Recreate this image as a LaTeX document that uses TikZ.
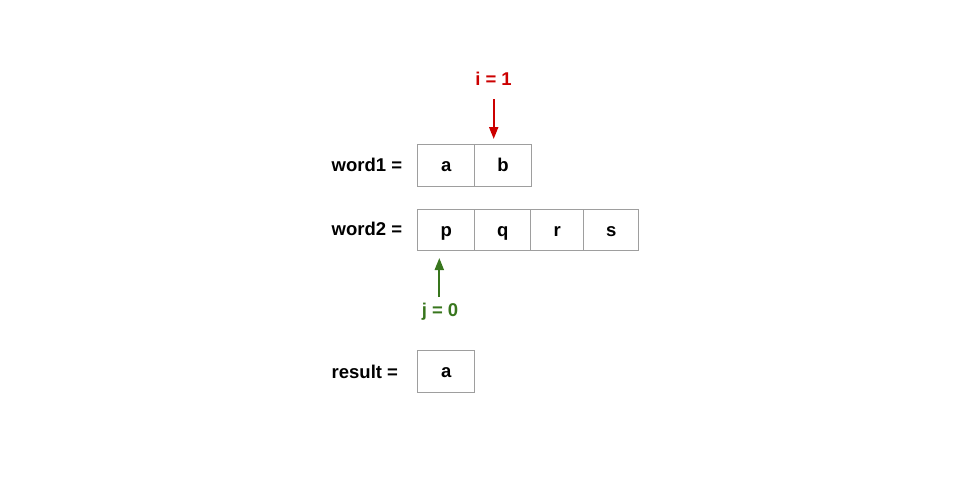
\documentclass[tikz,border=0pt]{standalone}
\usepackage{fontspec}
\setmainfont{Liberation Sans}
\usetikzlibrary{arrows.meta}
\definecolor{boxgray}{HTML}{9E9E9E}
\definecolor{ired}{HTML}{CC0000}
\definecolor{jgreen}{HTML}{38761D}
\begin{document}
\begin{tikzpicture}[x=1pt,y=-1pt,
  cell/.style={draw=boxgray,line width=1pt,minimum height=41.5pt,inner sep=0pt,text height=13pt,text depth=0pt,font=\fontsize{18.5}{20}\selectfont\bfseries,anchor=north west},
  lbl/.style={font=\fontsize{18.5}{20}\selectfont\bfseries,anchor=base west,inner sep=0pt},
  ptr/.style={line width=2pt,-{Triangle[length=12pt,width=9pt]}}]
\useasboundingbox (0,0) rectangle (960,480);
% word1
\node[cell,minimum width=57pt] (a1) at (417.3,144) {a};
\node[cell,minimum width=56.4pt] (b1) at (474.3,144) {b};
% word2
\node[cell,minimum width=57pt] (p2) at (417.3,208.5) {p};
\node[cell,minimum width=56pt] (q2) at (474.3,208.5) {q};
\node[cell,minimum width=53pt] (r2) at (530.3,208.5) {r};
\node[cell,minimum width=55pt] (s2) at (583.3,208.5) {s};
% result
\node[cell,minimum width=57pt] (res) at (417.3,350) {a};
% labels
\node[lbl] (w1) at (331.5,171) {word1 =};
\node[lbl] (w2) at (331.5,235.5) {word2 =};
\node[lbl] (rl) at (331.5,378) {result =};
% pointers
\node[font=\fontsize{18.5}{20}\selectfont\bfseries,text=ired,inner sep=0pt,anchor=base] (i) at (493.5,85.5) {i = 1};
\coordinate (itop) at (493.7,99);
\coordinate (ibot) at (493.7,139);
\draw[ptr,ired] (itop) -- (ibot);
\node[font=\fontsize{18.5}{20}\selectfont\bfseries,text=jgreen,inner sep=0pt,anchor=base] (j) at (440,316) {j = 0};
\coordinate (jbot) at (439.3,297);
\coordinate (jtop) at (439.3,258);
\draw[ptr,jgreen] (jbot) -- (jtop);
\end{tikzpicture}
\end{document}
